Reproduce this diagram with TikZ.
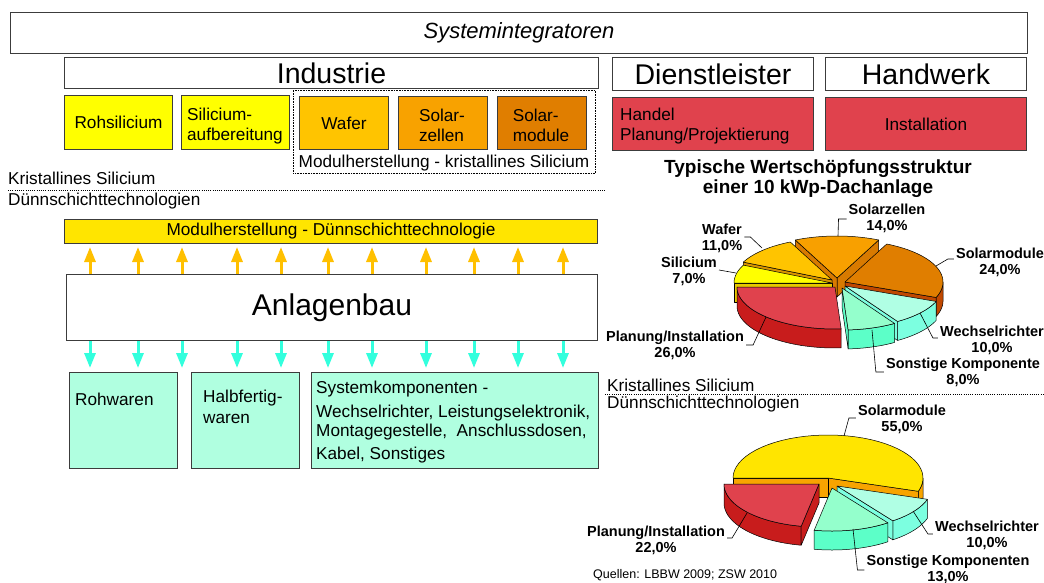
\documentclass[tikz,border=0pt]{standalone}
\usepackage{fontspec}
\setmainfont{Liberation Sans}
\usetikzlibrary{arrows.meta}

\definecolor{bd}{HTML}{3C3C3C}
\definecolor{cYel}{HTML}{FFFF00}
\definecolor{cGold}{HTML}{FFC400}
\definecolor{cOrA}{HTML}{F8A200}
\definecolor{cOrB}{HTML}{E07E00}
\definecolor{cRed}{HTML}{E0424D}
\definecolor{cBar}{HTML}{FFE500}
\definecolor{cArrO}{HTML}{FFC000}
\definecolor{cArrC}{HTML}{33FFDD}
\definecolor{cMint}{HTML}{B0FFE0}
\definecolor{pSiT}{HTML}{FFFF00}
\definecolor{pSiS}{HTML}{E8C800}
\definecolor{pWaT}{HTML}{FFC400}
\definecolor{pWaS}{HTML}{D89400}
\definecolor{pZeT}{HTML}{F8A000}
\definecolor{pZeS}{HTML}{D87A00}
\definecolor{pMoT}{HTML}{E07E00}
\definecolor{pMoS}{HTML}{C04800}
\definecolor{pWrT}{HTML}{B0FFE4}
\definecolor{pWrS}{HTML}{7CFFE0}
\definecolor{pSoT}{HTML}{94FFCC}
\definecolor{pSoS}{HTML}{5CFFC8}
\definecolor{pPlT}{HTML}{E0424D}
\definecolor{pPlS}{HTML}{C81C1C}
\definecolor{pDmT}{HTML}{FFE500}
\definecolor{pDmS}{HTML}{F8A400}

% cx cy rx ry a1 a2 colour
\newcommand\PieTop[7]{\filldraw[pieline,fill=#7] (#1,#2) -- plot[domain=#5:#6,samples=40,variable=\ang] ({#1+#3*cos(\ang)},{#2-#4*sin(\ang)}) -- cycle;}
% cx cy rx ry depth f1 f2 colour
\newcommand\PieOut[8]{\filldraw[pieline,fill=#8] plot[domain=#6:#7,samples=40,variable=\ang] ({#1+#3*cos(\ang)},{#2-#4*sin(\ang)}) -- plot[domain=#7:#6,samples=40,variable=\ang] ({#1+#3*cos(\ang)},{#2+#5-#4*sin(\ang)}) -- cycle;}
% cx cy rx ry depth angle colour
\newcommand\PieRad[7]{\filldraw[pieline,fill=#7] (#1,#2) -- ({#1+#3*cos(#6)},{#2-#4*sin(#6)}) -- ({#1+#3*cos(#6)},{#2+#5-#4*sin(#6)}) -- ({#1},{#2+#5}) -- cycle;}

\tikzset{
  pieline/.style={draw=black,line width=0.5pt,line join=round},
  box/.style={draw=bd,line width=1pt,inner sep=0pt,anchor=north west},
  txt/.style={font=\fontsize{17.2}{20}\selectfont,inner sep=0pt},
  bigtxt/.style={font=\fontsize{28.5}{32}\selectfont},
  sepline/.style={draw=black,line width=1pt,dash pattern=on 1pt off 1.2pt},
  uparr/.style={draw=cArrO,line width=3pt,-{Triangle[width=11pt,length=15pt]},shorten >=3pt},
  dnarr/.style={draw=cArrC,line width=3pt,-{Triangle[width=11pt,length=15pt]},shorten >=4pt},
  plab/.style={font=\fontsize{14.5}{16}\selectfont\bfseries,align=center,inner sep=0pt},
  lead/.style={draw=black,line width=0.6pt},
}

\begin{document}
\begin{tikzpicture}[x=1pt,y=-1pt]
\fill[white] (0,0) rectangle (1044,583);
\useasboundingbox (0,0) rectangle (1044,583);

% ---------- top rows ----------
\node[box,minimum width=1017pt,minimum height=41pt,font=\fontsize{22}{26}\selectfont\itshape] (sys) at (10,12) {Systemintegratoren};
\node[box,bigtxt,minimum width=534pt,minimum height=31pt] (ind) at (64,57) {Industrie};
\node[box,bigtxt,minimum width=201pt,minimum height=33pt] (dien) at (612,57) {Dienstleister};
\node[box,bigtxt,minimum width=201pt,minimum height=33pt] (hand) at (825,57) {Handwerk};

\node[box,txt,fill=cYel,minimum width=108pt,minimum height=54pt] (roh) at (64,95) {Rohsilicium};
\node[box,fill=cYel,minimum width=108pt,minimum height=54pt] (sia) at (181,95) {};
\node[draw=black,line width=0.6pt,dash pattern=on 0.8pt off 0.8pt,inner sep=0pt,anchor=north west,minimum width=302pt,minimum height=83pt] (kbox) at (293,90) {};
\node[box,txt,fill=cGold,minimum width=89pt,minimum height=53pt] (waf) at (299,96) {Wafer};
\node[box,fill=cOrA,minimum width=89pt,minimum height=53pt] (sze) at (398,96) {};
\node[box,fill=cOrB,minimum width=89pt,minimum height=53pt] (smo) at (497,96) {};
\node[txt,align=left] (siaT) at (235,126.5) {Silicium-\\aufbereitung};
\node[txt,align=left] (szeT) at (442,125) {Solar-\\zellen};
\node[txt,align=left] (smoT) at (541,125) {Solar-\\module};
\node[txt] (ktxt) at (444,163) {Modulherstellung - kristallines Silicium};
\node[box,fill=cRed,minimum width=201pt,minimum height=53pt] (handel) at (612,97) {};
\node[txt,anchor=west,align=left] (handelT) at (620,126) {Handel\\Planung/Projektierung};
\node[box,txt,fill=cRed,minimum width=201pt,minimum height=53pt,text width=187pt,align=center] (inst) at (825,97) {Installation};

% ---------- separators left ----------
\node[txt,anchor=west] (ksl) at (8,178) {Kristallines Silicium};
\draw[sepline] (8,190) -- (605,190);
\node[txt,anchor=west] (dsl) at (8,201) {Dünnschichttechnologien};

% ---------- left block ----------
\node[box,txt,fill=cBar,minimum width=533pt,minimum height=24pt] (bar) at (64,219) {Modulherstellung - Dünnschichttechnologie};
\node[box,font=\fontsize{30}{34}\selectfont,minimum width=531pt,minimum height=66pt] (anl) at (66,274) {Anlagenbau};

\node[box,fill=cMint,minimum width=108pt,minimum height=96pt] (rohw) at (69,372) {};
\node[box,fill=cMint,minimum width=108pt,minimum height=96pt] (halb) at (191,372) {};
\node[box,fill=cMint,minimum width=287pt,minimum height=96pt] (syk) at (311,372) {};
\node[txt,anchor=west] (rohwT) at (75,399) {Rohwaren};
\node[txt,anchor=north west,align=left,font=\fontsize{17.2}{21}\selectfont] (halbT) at (203,390) {Halbfertig-\\waren};
\node[txt,anchor=north west,align=left,font=\fontsize{17.2}{19.5}\selectfont] (sykT) at (316,380.5) {Systemkomponenten -\\[4.5pt]Wechselrichter, Leistungselektronik,\\Montagegestelle,\ \ Anschlussdosen,\\[3.5pt]Kabel, Sonstiges};

\foreach \i/\xx/\tg in {1/90/rohw,2/138/rohw,3/182/rohw,4/237/halb,5/281/halb,6/328/syk,7/372/syk,8/426/syk,9/474/syk,10/518/syk,11/563/syk}{
  \coordinate (col\i) at (\xx,0);
  \draw[uparr] (anl.north -| col\i) -- (bar.south -| col\i);
  \draw[dnarr] (anl.south -| col\i) -- (\tg.north -| col\i);
}

% ---------- right: title ----------
\node[font=\fontsize{19}{20}\selectfont\bfseries,align=center,inner sep=0pt] (ttl) at (818,179) {Typische Wertschöpfungsstruktur\\einer 10 kWp-Dachanlage};

% ---------- pie 1 (kristallin) ----------
% Solarzellen
\PieRad{837}{278}{98}{42}{19}{64.8}{pZeS}
\PieRad{837}{278}{98}{42}{19}{115.2}{pZeS}
\PieTop{837}{278}{98}{42}{64.8}{115.2}{pZeT}
% Wafer
\PieRad{832}{280}{98}{42}{19}{154.8}{pWaS}
\PieTop{832}{280}{98}{42}{115.2}{154.8}{pWaT}
% Solarmodule
\PieOut{845}{282}{98}{42}{19}{-21.6}{0}{pMoS}
\PieRad{845}{282}{98}{42}{19}{-21.6}{pMoS}
\PieTop{845}{282}{98}{42}{-21.6}{64.8}{pMoT}
% Silicium
\PieRad{832}{283}{98}{42}{19}{180}{pSiS}
\PieTop{832}{283}{98}{42}{154.8}{180}{pSiT}
% Wechselrichter
\PieOut{845}{286}{98}{42}{19}{-57.6}{-21.6}{pWrS}
\PieRad{845}{286}{98}{42}{19}{-57.6}{pWrS}
\PieTop{845}{286}{98}{42}{-57.6}{-21.6}{pWrT}
% Sonstige
\PieOut{842}{288}{98}{42}{19}{-86.4}{-57.6}{pSoS}
\PieRad{842}{288}{98}{42}{19}{-86.4}{pSoS}
\PieTop{842}{288}{98}{42}{-86.4}{-57.6}{pSoT}
% Planung
\PieOut{835}{287}{98}{42}{19}{-180}{-86.4}{pPlS}
\PieTop{835}{287}{98}{42}{-180}{-86.4}{pPlT}

\node[plab] (lsz) at (887,218) {Solarzellen\\14,0\%};
\node[plab] (lwf) at (722,238) {Wafer\\11,0\%};
\node[plab] (lsi) at (689,271) {Silicium\\7,0\%};
\node[plab] (lpl) at (675,345) {Planung/Installation\\26,0\%};
\node[plab] (lsm) at (1000,262) {Solarmodule\\24,0\%};
\node[plab] (lwr) at (992,340) {Wechselrichter\\10,0\%};
\node[plab] (lso) at (963,372) {Sonstige Komponente\\8,0\%};

\coordinate (psz) at (838,236);
\coordinate (pwf) at (762,248);
\coordinate (psi) at (736,273);
\coordinate (ppl) at (766,317);
\coordinate (psm) at (936,266);
\coordinate (pwr) at (920,313);
\coordinate (pso) at (872,330);
\draw[lead] ([xshift=-2pt,yshift=-1pt]lsz.west) -- ++(-8,0) -- (psz);
\draw[lead] ([xshift=2pt,yshift=1pt]lwf.east) -- ++(6,0) -- (pwf);
\draw[lead] ([xshift=2pt,yshift=1pt]lsi.east) -- (psi);
\draw[lead] ([xshift=2pt]lpl.east) -- ++(7,0) -- (ppl);
\draw[lead] ([xshift=-2pt,yshift=3pt]lsm.west) -- ++(-6,0) -- (psm);
\draw[lead] ([xshift=-2pt,yshift=2pt]lwr.west) -- ++(-5,0) -- (pwr);
\draw[lead] ([xshift=-2pt]lso.west) -- ++(-8,0) -- (pso);

% ---------- separators right ----------
\node[txt,anchor=west] (ksr) at (607,385) {Kristallines Silicium};
\draw[sepline] (605,394) -- (1044,394);
\node[txt,anchor=west] (dsr) at (607,404) {Dünnschichttechnologien};

% ---------- pie 2 (Dünnschicht) ----------
\PieOut{828}{478}{95}{43}{19}{-18}{0}{pDmS}
\PieRad{828}{478}{95}{43}{19}{-18}{pDmS}
\PieRad{828}{478}{95}{43}{19}{180}{pDmS}
\PieTop{828}{478}{95}{43}{-18}{180}{pDmT}
% Wechselrichter
\PieOut{837}{486}{95}{43}{19}{-54}{-18}{pWrS}
\PieRad{837}{486}{95}{43}{19}{-54}{pWrS}
\PieTop{837}{486}{95}{43}{-54}{-18}{pWrT}
% Sonstige
\PieOut{832}{488}{95}{43}{19}{-100.8}{-54}{pSoS}
\PieTop{832}{488}{95}{43}{-100.8}{-54}{pSoT}
% Planung
\PieOut{819}{484}{95}{43}{19}{-180}{-100.8}{pPlS}
\PieRad{819}{484}{95}{43}{19}{-100.8}{pPlS}
\PieTop{819}{484}{95}{43}{-180}{-100.8}{pPlT}

\node[plab] (lsm2) at (902,419) {Solarmodule\\55,0\%};
\node[plab] (lpl2) at (656,540) {Planung/Installation\\22,0\%};
\node[plab] (lwr2) at (987,535) {Wechselrichter\\10,0\%};
\node[plab] (lso2) at (948,569) {Sonstige Komponenten\\13,0\%};

\coordinate (qsm) at (844,436);
\coordinate (qpl) at (747,513);
\coordinate (qwr) at (913,511);
\coordinate (qso) at (853,529);
\draw[lead] ([xshift=-2pt,yshift=1pt]lsm2.west) -- ++(-7,0) -- (qsm);
\draw[lead] ([xshift=2pt,yshift=2pt]lpl2.east) -- ++(5,0) -- (qpl);
\draw[lead] ([xshift=-2pt,yshift=1pt]lwr2.west) -- ++(-5,0) -- (qwr);
\draw[lead] ([xshift=-2pt,yshift=-1pt]lso2.west) -- ++(-7,0) -- (qso);

\node[anchor=west,inner sep=0pt,font=\fontsize{12.5}{14}\selectfont] (src) at (593,575) {Quellen: LBBW 2009; ZSW 2010};
\end{tikzpicture}
\end{document}
